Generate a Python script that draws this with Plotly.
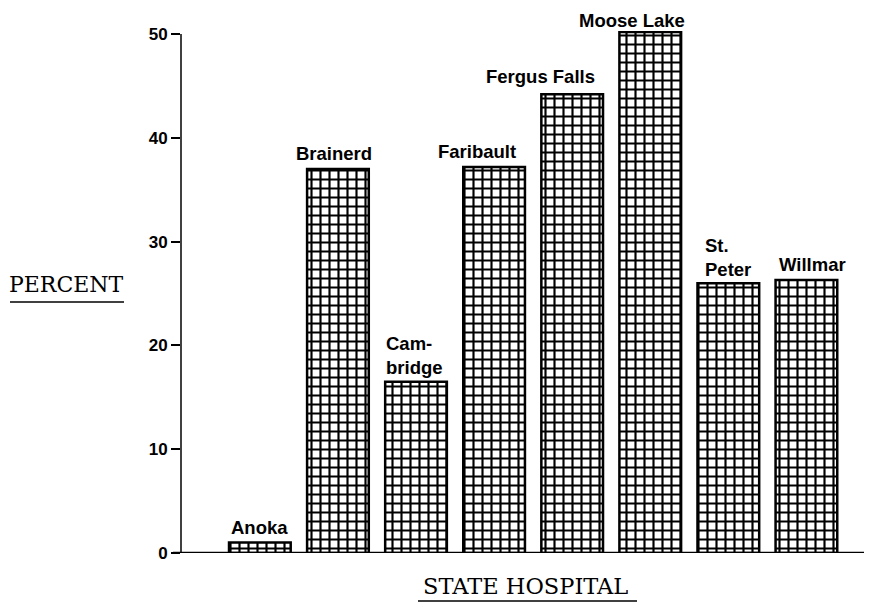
import plotly.graph_objects as go

hospitals = ["Anoka", "Brainerd", "Cambridge", "Faribault", "Fergus Falls",
             "Moose Lake", "St. Peter", "Willmar"]
bar_labels = ["Anoka", "Brainerd", "Cam-<br>bridge", "Faribault", "Fergus Falls",
              "Moose Lake", "St.<br>Peter", "Willmar"]
percent = [1.0, 37.0, 16.5, 37.2, 44.2, 50.2, 26.0, 26.3]
y_ticks = [0, 10, 20, 30, 40, 50]

# label placement style (pixel nudges relative to bar top centre, as in the original)
label_xshift = [0, -4, -2, -17, -32, -18, 0, 6]
label_yshift = [4, 4, 3, 4, 6, 0, 2, 4]
label_align = ["center", "center", "left", "center", "center", "center", "left", "center"]

OFF = 8  # page body margin
W, H = 872 - OFF, 604 - OFF
ML, MR, MT, MB = 181 - OFF, 0, 31 - OFF, 51
PW, PH = W - ML - MR, H - MT - MB


def px(x):
    return (x - OFF - ML) / PW


def py(y):
    return (H - MB - (y - OFF)) / PH


fig = go.Figure()
fig.add_trace(go.Bar(
    x=hospitals, y=percent,
    marker=dict(color="white", line=dict(color="black", width=2.5),
                pattern=dict(shape="+", fgcolor="black", bgcolor="white",
                             size=9, solidity=0.42, fillmode="replace")),
    hoverinfo="skip",
))

label_font = dict(family="Liberation Sans", size=18.5, color="black", weight="bold")
annotations = []
for name, lab, val, dx, dy, al in zip(hospitals, bar_labels, percent,
                                      label_xshift, label_yshift, label_align):
    annotations.append(dict(
        x=name, y=val, xref="x", yref="y", text=lab, showarrow=False,
        xanchor="center", yanchor="bottom", xshift=dx, yshift=dy, align=al,
        borderpad=0, font=label_font))

annotations += [
    dict(text="PERCENT", xref="paper", yref="paper", x=px(66), y=py(284),
         xanchor="center", yanchor="middle", showarrow=False,
         font=dict(family="DejaVu Serif", size=22, color="black")),
    dict(text="STATE HOSPITAL", xref="paper", yref="paper", x=px(525), y=py(586),
         xanchor="center", yanchor="middle", showarrow=False,
         font=dict(family="DejaVu Serif", size=22.5, color="black")),
]

fig.update_layout(
    width=W, height=H, margin=dict(l=ML, r=MR, t=MT, b=MB),
    paper_bgcolor="white", plot_bgcolor="white", showlegend=False,
    bargap=0.21,
    xaxis=dict(range=[-1.01, 7.84], showticklabels=False, showline=False,
               showgrid=False, zeroline=False, ticks=""),
    yaxis=dict(range=[0, 50.3], tickvals=y_ticks, showgrid=False, zeroline=False,
               showline=False, ticks="outside", ticklen=9, tickwidth=1.5,
               tickcolor="black", ticklabelstandoff=0,
               tickfont=dict(family="Liberation Sans", size=17, color="black",
                             weight="bold")),
    shapes=[
        dict(type="line", xref="paper", yref="y", x0=0, x1=0, y0=0, y1=50,
             line=dict(color="black", width=1.5)),
        dict(type="line", xref="paper", yref="y", x0=px(173), x1=1, y0=0, y1=0,
             line=dict(color="black", width=2.5)),
        dict(type="line", xref="paper", yref="paper", x0=px(10), x1=px(124),
             y0=py(302), y1=py(302), line=dict(color="black", width=1.5)),
        dict(type="line", xref="paper", yref="paper", x0=px(418), x1=px(637),
             y0=py(601), y1=py(601), line=dict(color="black", width=1.5)),
    ],
    annotations=annotations,
)

fig.write_html("out.html")
